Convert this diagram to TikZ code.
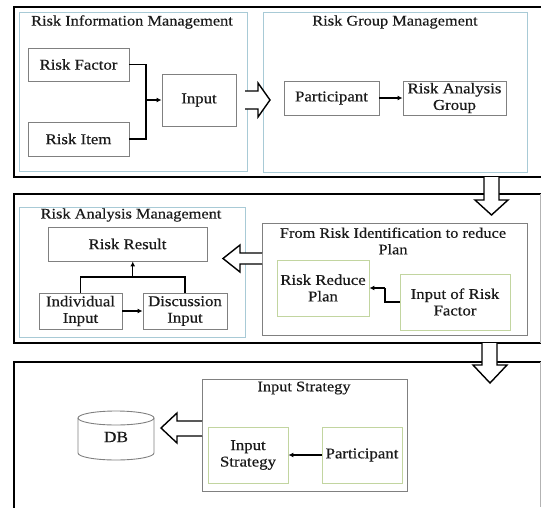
\documentclass[tikz,border=0pt]{standalone}
\usepackage{fontspec}
\setmainfont{Liberation Serif}[FakeStretch=1.12,FakeBold=0.4]
\usetikzlibrary{arrows.meta,calc}
\definecolor{bluebd}{HTML}{A8CAD6}
\definecolor{greenbd}{HTML}{C2D5A0}
\definecolor{graybd}{HTML}{808080}
\definecolor{txt}{HTML}{1A1A1A}
\tikzset{
  outer/.style={draw=black, line width=1.6pt},
  container/.style={draw=#1, line width=0.9pt},
  item/.style={draw=graybd, line width=0.9pt, fill=white, align=center, inner sep=1pt,
    text=txt, font=\fontsize{15}{16.5}\selectfont},
  gitem/.style={item, draw=greenbd},
  title/.style={font=\fontsize{14.6}{16.5}\selectfont, text=txt, align=center, inner sep=0pt},
  conn/.style={draw=black, line width=1.1pt, -{Latex[length=5pt,width=5pt]}},
  hollow/.style={draw=black, line width=1.4pt, fill=white, line join=miter},
}
\begin{document}
\begin{tikzpicture}[x=1pt,y=-1pt]
\useasboundingbox (0,0) rectangle (541,507);
\clip (0,0) rectangle (541,507);
% outer frames
\draw[outer] (560,7) -- (14,7) -- (14,177) -- (560,177);
\draw[outer] (560,194) -- (14,194) -- (14,343) -- (560,343);
\draw[outer] (560,362) -- (14,362) -- (14,520);
\draw[graybd!60, line width=0.6pt] (540,194) -- (540,343);
\draw[graybd!60, line width=0.6pt] (540,362) -- (540,507);

% containers
\draw[container=bluebd] (19,12) rectangle (247,171);
\node[title] (rimT) at (132,22) {Risk Information Management};
\draw[container=bluebd] (263,12) rectangle (527,172);
\node[title] (rgmT) at (395,22) {Risk Group Management};
\draw[container=bluebd] (19,207) rectangle (245,337);
\node[title] (ramT) at (131,215) {Risk Analysis Management};
\draw[container=graybd] (262,223) rectangle (527,335);
\node[title] (friT) at (393,241) {From Risk Identification to reduce\\Plan};
\draw[container=graybd] (202,379) rectangle (407,491);
\node[title] (isT) at (304,388) {Input Strategy};

% section 1
\node[item, minimum width=101, minimum height=33] (rf) at (78.5,64.5) {Risk Factor};
\node[item, minimum width=101, minimum height=34] (ri) at (78.5,139) {Risk Item};
\node[item, minimum width=74, minimum height=52] (inp) at (199,100) {Input};
\coordinate (j1) at (146,100);
\draw[line width=1.1pt] (rf.east) -| (j1);
\draw[line width=1.1pt] (ri.east) -| (j1);
\draw[conn] (j1) -- (inp.west);
\node[item, minimum width=95, minimum height=34] (p1) at (331.5,98) {Participant};
\node[item, minimum width=103, minimum height=34] (rag) at (454.5,98) {Risk Analysis\\Group};
\draw[conn] (p1) -- (rag);

% section 2
\node[item, minimum width=159, minimum height=34] (rr) at (127.5,244) {Risk Result};
\node[item, minimum width=83, minimum height=36] (ii) at (80.5,311) {Individual\\Input};
\node[item, minimum width=84, minimum height=36] (di) at (185,311) {Discussion\\Input};
\coordinate (j2) at (132.75,277);
\draw[line width=1.1pt] (ii.north) |- (j2) -| (di.north);
\draw[conn] (j2) -- (j2 |- rr.south);
\draw[conn] (ii) -- (di);
\node[gitem, minimum width=92, minimum height=56] (rrp) at (323,288) {Risk Reduce\\Plan};
\node[gitem, minimum width=110, minimum height=56] (irf) at (455,302) {Input of Risk\\Factor};
\coordinate (j3) at (385,302);
\coordinate (j4) at (385,288);
\draw[line width=1.1pt] (irf.west) -- (j3) -- (j4);
\draw[conn] (j4) -- (rrp.east |- j4);

% section 3
\node[gitem, minimum width=80, minimum height=56] (ist) at (248,455) {Input\\Strategy};
\node[gitem, minimum width=80, minimum height=56] (p2) at (362,455) {Participant};
\draw[conn] (p2) -- (ist);
\draw[graybd, line width=0.9pt, fill=white] (78,418) -- (78,453) arc[start angle=180, end angle=0, x radius=38, y radius=7] -- (154,418);
\draw[graybd, line width=0.9pt] (116,418) ellipse[x radius=38, y radius=7];
\node[text=txt, font=\fontsize{15.5}{17}\selectfont, minimum width=76, minimum height=49] (db) at (116,437) {DB};

% hollow arrows
\draw[hollow] (245,91) -- (258,91) -- (258,83) -- (270,100) -- (258,117) -- (258,109) -- (245,109);
\draw[hollow] (262,253) -- (240,253) -- (240,245) -- (223,258.5) -- (240,272) -- (240,264) -- (262,264);
\draw[hollow] (202,421) -- (177,421) -- (177,413) -- (161,428) -- (177,443) -- (177,436) -- (202,436);
\draw[hollow] (484,177) -- (484,200) -- (475,200) -- (491.5,215) -- (508,200) -- (499,200) -- (499,177);
\draw[hollow] (482,343) -- (482,365) -- (473,365) -- (490,383) -- (507,365) -- (497,365) -- (497,343);
\end{tikzpicture}
\end{document}
